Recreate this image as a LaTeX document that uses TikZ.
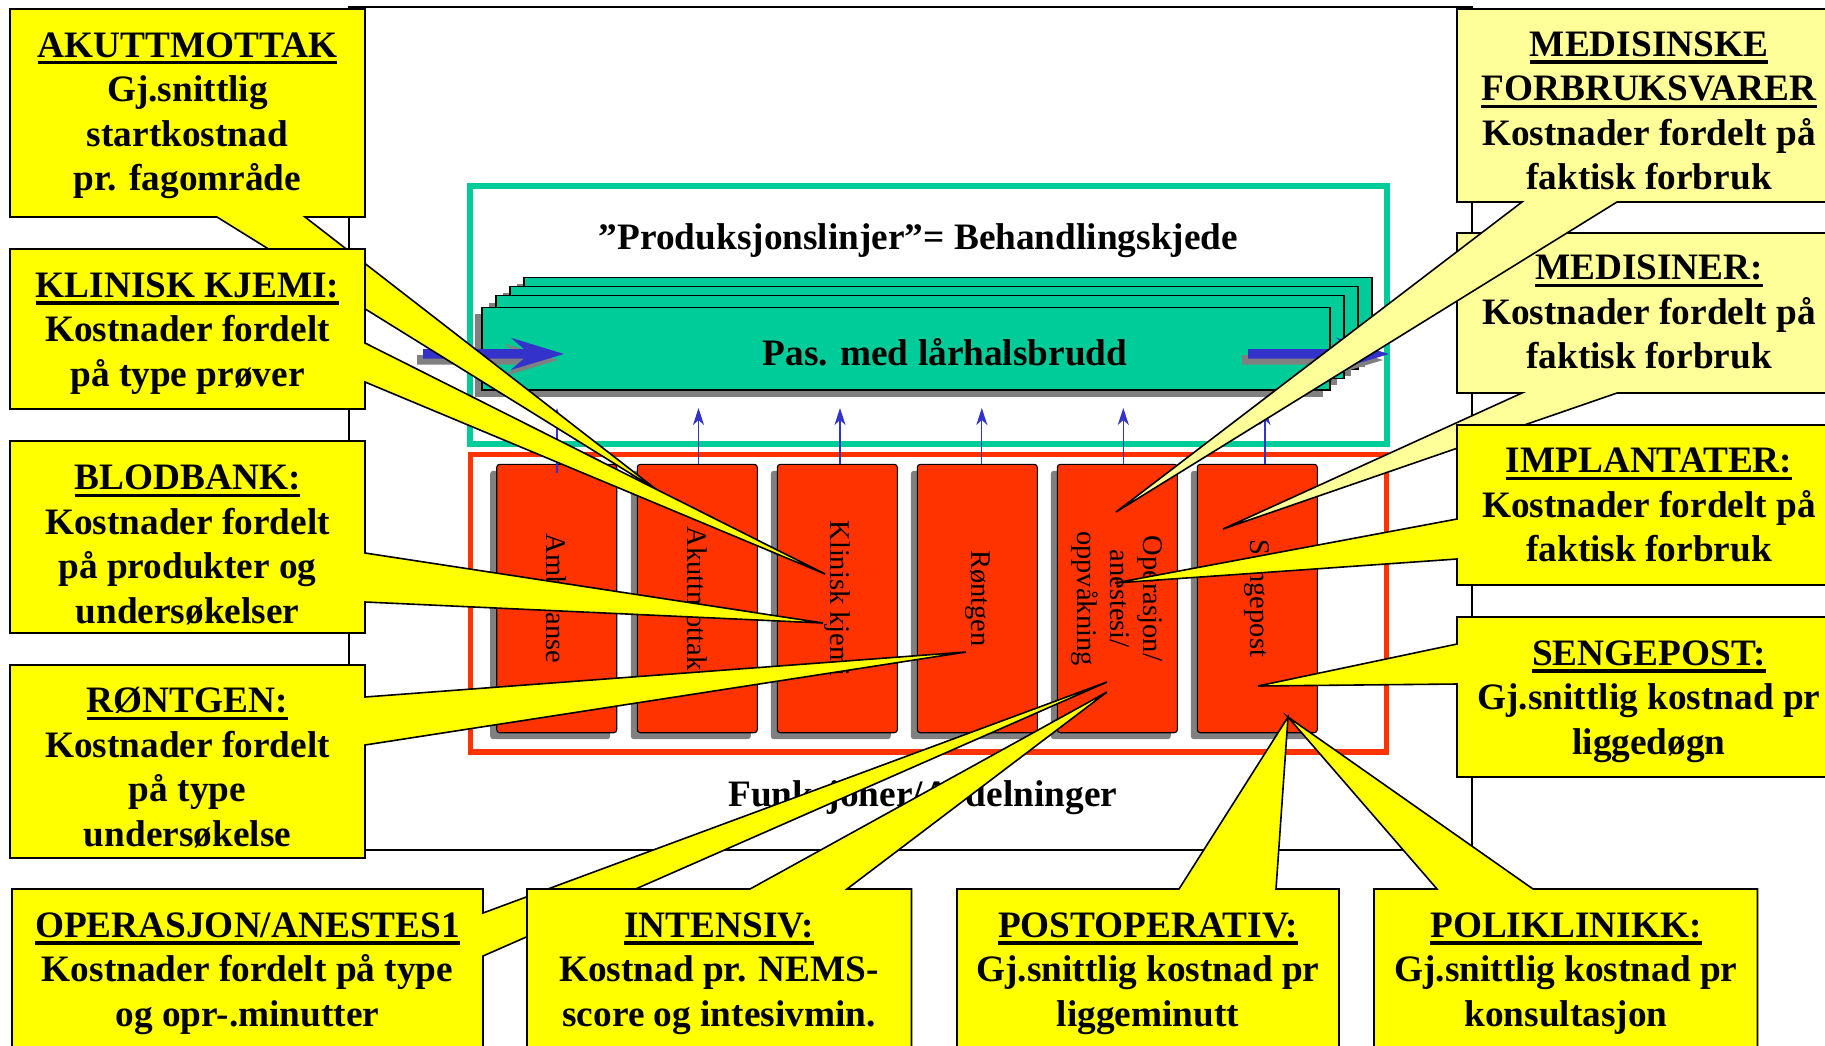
\documentclass[tikz,border=0pt]{standalone}
\usepackage{fontspec}
\setmainfont{Liberation Serif}
\usetikzlibrary{arrows.meta,shadows}
\definecolor{tealc}{RGB}{0,204,153}
\definecolor{redc}{RGB}{255,51,0}
\definecolor{bluea}{RGB}{51,51,204}
\definecolor{ylw}{RGB}{255,255,0}
\definecolor{lylw}{RGB}{255,255,153}
\definecolor{shad}{RGB}{128,128,128}
\newsavebox\ulsave
\newcommand\ulh[1]{\sbox\ulsave{#1}\rlap{\rule[-7.4pt]{\wd\ulsave}{3.4pt}}\usebox\ulsave}
\tikzset{
  callout/.style={fill=ylw, draw=black, line width=1.6pt},
  lcallout/.style={callout, fill=lylw},
  ctext/.style={align=center, font=\bfseries\fontsize{37.3}{44.5}\selectfont, inner sep=0pt},
  btext/.style={font=\bfseries\fontsize{37.3}{44.5}\selectfont, inner sep=0pt, anchor=base},
  coltext/.style={align=center, font=\fontsize{28.5}{33}\selectfont, rotate=-90, inner sep=0pt},
  colbox/.style={draw=black, line width=1.1pt, fill=redc, rounded corners=3pt, minimum width=120pt, minimum height=268.4pt, inner sep=0pt, general shadow={fill=shad, shadow xshift=-6.5pt, shadow yshift=-6.5pt}},
  stackbox/.style={draw=black, line width=1.4pt, fill=tealc, minimum width=848pt, minimum height=82.7pt, inner sep=0pt, general shadow={fill=shad, shadow xshift=-7pt, shadow yshift=-7pt}},
  uparrow/.style={draw=bluea, line width=1.1pt, -{Stealth[length=17pt,width=11pt,inset=5pt]}},
  bigarrow/.style={fill=bluea},
  arrowshadow/.style={fill=shad},
  frameline/.style={draw=black, line width=2pt},
}
\begin{document}
\begin{tikzpicture}[x=1pt,y=-1pt]
\path[use as bounding box] (0,0) rectangle (1825,1045);
\path[clip] (0,0) rectangle (1825,1045);
\fill[white] (0,0) rectangle (1825,1045);

% outer frame
\draw[frameline] (349,7) rectangle (1472,850);

% production line box
\draw[tealc, line width=6pt] (470.3,186.3) rectangle (1386.7,443.7);
\node[btext] (title) at (918.5,249.3) {”Produksjonslinjer”= Behandlingskjede};

% stacked patient-line cards
\node[stackbox] (s1) at (948,318.65) {};
\node[stackbox] (s2) at (934,327.65) {};
\node[stackbox] (s3) at (920,337.05) {};
\node[stackbox] (s4) at (906,348.65) {};
\node[btext] (pas) at (945,365) {Pas. med lårhalsbrudd};

% big blue arrows with shadows
\begin{scope}[shift={(-6,6)}]
\path[arrowshadow] (423,349) -- (524,349) -- (510.7,337.7) -- (564,354) -- (510.7,370) -- (524,358.5) -- (423,358.5) -- cycle;
\path[arrowshadow] (1248,349) -- (1350,349) -- (1336,337.7) -- (1389,354) -- (1336,370) -- (1350,358.5) -- (1248,358.5) -- cycle;
\end{scope}
\path[bigarrow] (423,349) -- (524,349) -- (510.7,337.7) -- (564,354) -- (510.7,370) -- (524,358.5) -- (423,358.5) -- cycle;
\path[bigarrow] (1248,349) -- (1350,349) -- (1336,337.7) -- (1389,354) -- (1336,370) -- (1350,358.5) -- (1248,358.5) -- cycle;

% departments box
\draw[redc, line width=5.5pt] (470.5,454.5) rectangle (1386.5,752);
\node[colbox] (c1) at (556.7,598.5) {};
\node[colbox] (c2) at (697.3,598.5) {};
\node[colbox] (c3) at (837.3,598.5) {};
\node[colbox] (c4) at (977.3,598.5) {};
\node[colbox] (c5) at (1117.3,598.5) {};
\node[colbox] (c6) at (1257.3,598.5) {};
\node[coltext] (l1) at (c1) {Ambulanse};
\node[coltext] (l2) at (c2) {Akuttmottak};
\node[coltext] (l3) at (c3) {Klinisk kjemi};
\node[coltext] (l4) at (c4) {Røntgen};
\node[coltext] (l5) at (c5) {Operasjon/\\anestesi/\\oppvåkning};
\node[coltext] (l6) at (c6) {Sengepost};

% small arrows from departments up to the line
\coordinate (a1) at (557,408);
\coordinate (a2) at (698.5,408);
\coordinate (a3) at (840,408);
\coordinate (a4) at (981.8,408);
\coordinate (a5) at (1123.3,408);
\coordinate (a6) at (1265,408);
\coordinate (b1) at (557,473);
\draw[uparrow] (b1) -- (a1);
\draw[uparrow] (c2.north -| a2) -- (a2);
\draw[uparrow] (c3.north -| a3) -- (a3);
\draw[uparrow] (c4.north -| a4) -- (a4);
\draw[uparrow] (c5.north -| a5) -- (a5);
\draw[uparrow] (c6.north -| a6) -- (a6);

\node[btext] (funk) at (922.7,806.7) {Funksjoner/Avdelninger};

% left callouts
\path[callout] (10,9) -- (365,9) -- (365,217) -- (305,217) -- (657,490) -- (217,217) -- (10,217) -- cycle;
\node[ctext] (t1) at (187.5,115.6) {\ulh{AKUTTMOTTAK}\\Gj.snittlig\\startkostnad\\pr. fagområde};
\path[callout] (10,249) -- (365,249) -- (365,343) -- (825,574) -- (365,382) -- (365,409) -- (10,409) -- cycle;
\node[ctext] (t2) at (187.5,333.6) {\ulh{KLINISK KJEMI:}\\Kostnader fordelt\\på type prøver};
\path[callout] (10,441) -- (365,441) -- (365,553) -- (823,623) -- (365,602) -- (365,633) -- (10,633) -- cycle;
\node[ctext] (t3) at (187.5,545) {\ulh{BLODBANK:}\\Kostnader fordelt\\på produkter og\\undersøkelser};
\path[callout] (10,665) -- (365,665) -- (365,697) -- (966,652) -- (365,745) -- (365,858) -- (10,858) -- cycle;
\node[ctext] (t4) at (187.5,767.6) {\ulh{RØNTGEN:}\\Kostnader fordelt\\på type\\undersøkelse};

% right callouts
\path[lcallout] (1457,233) -- (1845,233) -- (1845,393) -- (1617,393) -- (1223,529) -- (1522,393) -- (1457,393) -- cycle;
\node[ctext] (t10) at (1649,312) {\ulh{MEDISINER:}\\Kostnader fordelt på\\faktisk forbruk};
\path[lcallout] (1457,9) -- (1845,9) -- (1845,202) -- (1617,202) -- (1116,512) -- (1522,202) -- (1457,202) -- cycle;
\node[ctext] (t9) at (1649,111) {\ulh{MEDISINSKE}\\\ulh{FORBRUKSVARER}\\Kostnader fordelt på\\faktisk forbruk};
\path[callout] (1457,425) -- (1845,425) -- (1845,585) -- (1457,585) -- (1457,559) -- (1115,583) -- (1457,519) -- cycle;
\node[ctext] (t11) at (1649,505) {\ulh{IMPLANTATER:}\\Kostnader fordelt på\\faktisk forbruk};
\path[callout] (1457,617) -- (1845,617) -- (1845,777) -- (1457,777) -- (1457,684) -- (1258,686) -- (1457,644) -- cycle;
\node[ctext] (t12) at (1649,701.6) {\ulh{SENGEPOST:}\\Gj.snittlig kostnad pr\\liggedøgn};

% bottom callouts
\path[callout] (12,889) -- (483,889) -- (483,913) -- (1107,682) -- (483,956) -- (483,1060) -- (12,1060) -- cycle;
\node[ctext] (t5) at (247.5,973.5) {\ulh{OPERASJON/ANESTES1}\\Kostnader fordelt på type\\og opr-.minutter};
\path[callout] (527,889) -- (750,889) -- (1107,692) -- (847,889) -- (911.5,889) -- (911.5,1060) -- (527,1060) -- cycle;
\node[ctext] (t6) at (719,973.5) {\ulh{INTENSIV:}\\Kostnad pr. NEMS-\\score og intesivmin.};
\path[callout] (957,889) -- (1179,889) -- (1288,717) -- (1276,889) -- (1339,889) -- (1339,1060) -- (957,1060) -- cycle;
\node[ctext] (t7) at (1148,973.5) {\ulh{POSTOPERATIV:}\\Gj.snittlig kostnad pr\\liggeminutt};
\path[callout] (1374,889) -- (1437,889) -- (1288,717) -- (1533,889) -- (1757.5,889) -- (1757.5,1060) -- (1374,1060) -- cycle;
\node[ctext] (t8) at (1566,973.5) {\ulh{POLIKLINIKK:}\\Gj.snittlig kostnad pr\\konsultasjon};
\end{tikzpicture}
\end{document}
